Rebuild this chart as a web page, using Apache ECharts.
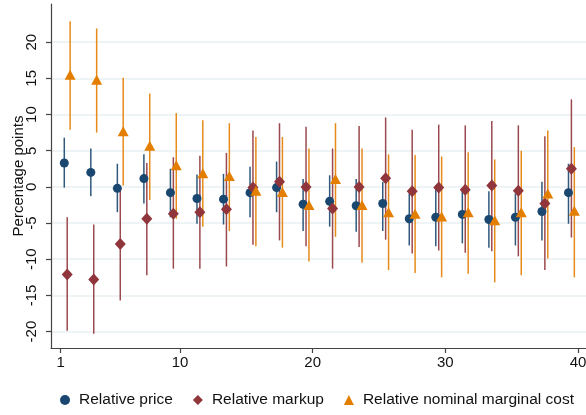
<!DOCTYPE html>
<html>
<head>
<meta charset="utf-8">
<script src="https://cdn.jsdelivr.net/npm/echarts@6/dist/echarts.min.js"></script>
<style>
  html, body { margin: 0; padding: 0; background: #fff; }
  #chart { width: 586px; height: 415px; }
</style>
</head>
<body>
<div id="chart"></div>
<script>
// Bin midpoints (x positions of each group)
const bins = [1.5, 3.5, 5.5, 7.5, 9.5, 11.5, 13.5, 15.5, 17.5, 19.5,
              21.5, 23.5, 25.5, 27.5, 29.5, 31.5, 33.5, 35.5, 37.5, 39.5];

// Relative price: estimate, lower and upper bound
const priceEst = [3.3, 2.0, -0.2, 1.15, -0.8, -1.6, -1.7, -0.8, -0.1, -2.4,
                  -2.0, -2.6, -2.3, -4.4, -4.2, -3.8, -4.5, -4.2, -3.4, -0.8];
const priceLo  = [-0.1, -1.3, -3.5, -2.3, -4.2, -5.1, -5.2, -4.2, -3.5, -6.1,
                  -5.5, -6.2, -6.1, -8.1, -8.2, -7.8, -8.4, -8.1, -7.4, -5.1];
const priceHi  = [6.8, 5.3, 3.2, 4.5, 2.5, 1.7, 1.8, 2.8, 3.5, 1.1,
                  1.6, 1.1, 0.7, -0.9, 0.2, -0.4, -0.6, -0.9, 0.7, 3.2];

// Relative markup
const markupEst = [-12.1, -12.8, -7.9, -4.4, -3.7, -3.5, -3.1, -0.1, 0.7, 0.0,
                   -3.0, 0.0, 1.2, -0.6, -0.1, -0.4, 0.2, -0.55, -2.3, 2.5];
const markupLo  = [-19.9, -20.3, -15.7, -12.2, -11.3, -11.3, -11.0, -8.0, -7.4, -8.2,
                   -11.3, -8.3, -7.3, -9.2, -8.8, -9.1, -8.9, -9.6, -11.5, -7.0];
const markupHi  = [-4.2, -5.2, 0.0, 3.3, 4.1, 4.3, 4.7, 7.8, 8.8, 8.3,
                   5.3, 8.4, 9.6, 7.9, 8.6, 8.5, 9.1, 8.5, 7.0, 12.1];

// Relative nominal marginal cost
const costEst = [15.5, 14.8, 7.7, 5.7, 3.0, 1.9, 1.5, -0.55, -0.7, -2.5,
                 1.1, -2.5, -3.5, -3.7, -4.1, -3.5, -4.6, -3.5, -0.9, -3.3];
const costLo  = [7.9, 7.5, 0.2, -1.8, -4.4, -5.5, -6.1, -8.2, -8.4, -10.3,
                 -6.9, -10.5, -11.5, -11.9, -12.5, -12.0, -13.2, -12.2, -9.9, -12.5];
const costHi  = [22.9, 21.9, 15.1, 12.9, 10.2, 9.2, 8.8, 6.9, 6.9, 5.3,
                 8.8, 5.3, 4.5, 4.4, 4.2, 4.8, 3.8, 5.0, 7.8, 5.5];

// Axis ticks
const xTicks = [1, 10, 20, 30, 40];
const yTicks = [-20, -15, -10, -5, 0, 5, 10, 15, 20];

const FONT = '"Liberation Sans", Arial, Helvetica, sans-serif';
const NAVY = '#1a476f', MAROON = '#90353b', ORANGE = '#e37e00';
const GAP = 0.22; // horizontal dodge between the three series in a bin

function ciData(lo, hi, off) {
  return bins.map((b, i) => [b + off, lo[i], hi[i]]);
}
function ptData(est, off) {
  return bins.map((b, i) => [b + off, est[i]]);
}
function ciSeries(name, lo, hi, off, color) {
  return {
    type: 'custom',
    name: name,
    data: ciData(lo, hi, off),
    encode: { x: 0, y: [1, 2] },
    renderItem: function (params, api) {
      const a = api.coord([api.value(0), api.value(1)]);
      const b = api.coord([api.value(0), api.value(2)]);
      return {
        type: 'line',
        shape: { x1: a[0], y1: a[1], x2: b[0], y2: b[1] },
        style: { stroke: color, lineWidth: 1.5, opacity: 0.9 }
      };
    },
    z: 2
  };
}
function ptSeries(name, est, off, color, symbol, size) {
  return {
    type: 'scatter',
    name: name,
    data: ptData(est, off),
    symbol: symbol,
    symbolSize: size,
    itemStyle: { color: color, opacity: 1 },
    z: 3
  };
}

const chart = echarts.init(document.getElementById('chart'), null, { renderer: 'canvas' });
chart.setOption({
  animation: false,
  backgroundColor: '#fff',
  grid: { left: 51, right: 0, top: 4, bottom: 67, outerBoundsMode: 'none', containLabel: false },
  xAxis: {
    type: 'value',
    min: 0.279,
    max: 40.6,
    axisLine: { show: true, onZero: false, lineStyle: { color: '#444', width: 1.2 } },
    axisTick: { show: true, length: 5, customValues: xTicks, lineStyle: { color: '#444', width: 1.2 } },
    axisLabel: { customValues: xTicks, fontSize: 15, fontFamily: FONT, color: '#111', margin: 7 },
    splitLine: { show: false }
  },
  yAxis: {
    type: 'value',
    min: -22.27,
    max: 25.28,
    name: 'Percentage points',
    nameLocation: 'middle',
    nameGap: 25,
    nameMoveOverlap: false,
    nameTextStyle: { fontSize: 15, fontFamily: FONT, color: '#111' },
    axisLine: { show: true, onZero: false, lineStyle: { color: '#444', width: 1.2 } },
    axisTick: { show: true, length: 5, customValues: yTicks, lineStyle: { color: '#444', width: 1.2 } },
    axisLabel: { customValues: yTicks, rotate: 90, fontSize: 15, fontFamily: FONT, color: '#111', margin: 12 },
    splitLine: { show: true, lineStyle: { color: '#e8eff2', width: 1.5 } }
  },
  legend: {
    left: 55,
    top: 387,
    itemGap: 20,
    itemWidth: 10,
    itemHeight: 10,
    textStyle: { fontSize: 15.5, fontFamily: FONT, color: '#111', padding: [0, 0, 0, 4] },
    data: ['Relative price', 'Relative markup', 'Relative nominal marginal cost']
  },
  series: [
    ciSeries('price CI', priceLo, priceHi, -GAP, NAVY),
    ptSeries('Relative price', priceEst, -GAP, NAVY, 'circle', 9),
    ciSeries('markup CI', markupLo, markupHi, 0, MAROON),
    ptSeries('Relative markup', markupEst, 0, MAROON, 'diamond', [11, 12]),
    ciSeries('cost CI', costLo, costHi, GAP, ORANGE),
    ptSeries('Relative nominal marginal cost', costEst, GAP, ORANGE, 'triangle', [11, 10])
  ]
});
</script>
</body>
</html>
